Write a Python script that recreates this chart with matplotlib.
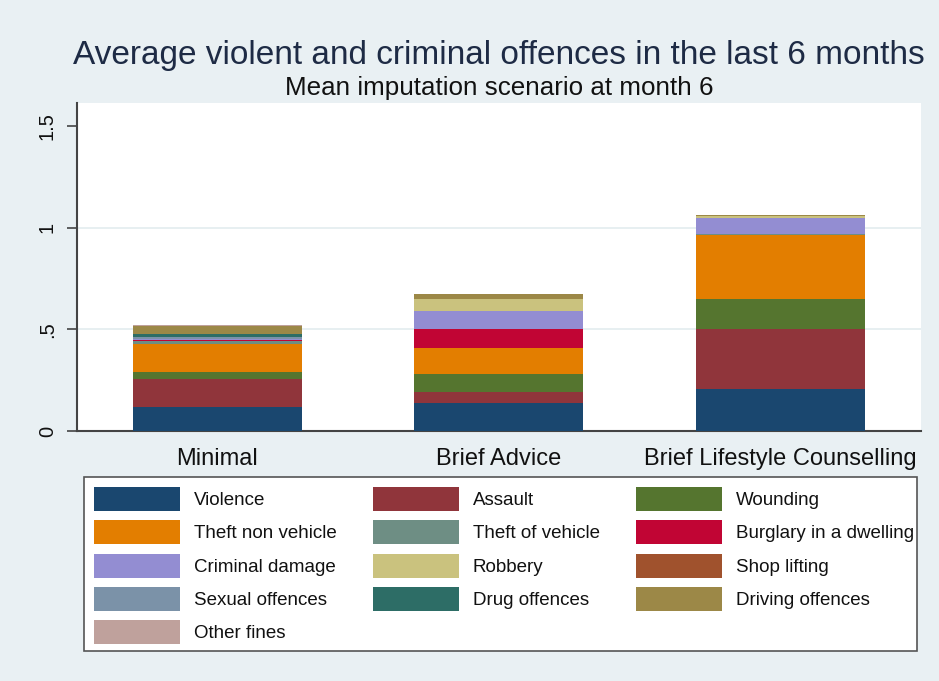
import matplotlib
matplotlib.use("Agg")
import matplotlib.pyplot as plt
from matplotlib.patches import Rectangle, Patch
import numpy as np

plt.rcParams['font.family'] = ['Liberation Sans', 'DejaVu Sans']

# Data
categories = ["Minimal", "Brief Advice", "Brief Lifestyle Counselling"]
offence_types = ["Violence", "Assault", "Wounding", "Theft non vehicle",
                 "Theft of vehicle", "Burglary in a dwelling", "Criminal damage",
                 "Robbery", "Shop lifting", "Sexual offences", "Drug offences",
                 "Driving offences", "Other fines"]
violence = [0.120, 0.136, 0.207]
assault = [0.135, 0.054, 0.294]
wounding = [0.033, 0.090, 0.149]
theft_non_vehicle = [0.141, 0.127, 0.313]
theft_of_vehicle = [0.012, 0.000, 0.008]
burglary = [0.005, 0.093, 0.000]
criminal_damage = [0.006, 0.092, 0.077]
robbery = [0.000, 0.057, 0.010]
shop_lifting = [0.000, 0.000, 0.000]
sexual_offences = [0.012, 0.000, 0.000]
drug_offences = [0.013, 0.000, 0.000]
driving_offences = [0.040, 0.025, 0.005]
other_fines = [0.003, 0.000, 0.000]

series = [violence, assault, wounding, theft_non_vehicle, theft_of_vehicle,
          burglary, criminal_damage, robbery, shop_lifting, sexual_offences,
          drug_offences, driving_offences, other_fines]

colors = ["#1a476f", "#90353b", "#55752f", "#e37e00", "#6e8e84", "#c10534",
          "#938dd2", "#cac27e", "#a0522d", "#7b92a8", "#2d6d66", "#9c8847",
          "#bfa19c"]

W, H = 939, 681
fig = plt.figure(figsize=(W / 100, H / 100), dpi=100)
fig.patch.set_facecolor("#e9f0f3")

ax_l, ax_r, ax_t, ax_b = 76.7, 921, 103.3, 431
ax = fig.add_axes([ax_l / W, 1 - ax_b / H, (ax_r - ax_l) / W, (ax_b - ax_t) / H])
ax.set_facecolor("white")

x = np.arange(len(categories))
bottom = np.zeros(len(categories))
for vals, col in zip(series, colors):
    v = np.array(vals)
    ax.bar(x, v, width=0.601, bottom=bottom, color=col, linewidth=0, zorder=3)
    bottom += v

ax.set_xlim(-0.5, 2.5)
ax.set_ylim(0, 1.612)
ax.set_yticks([0, 0.5, 1, 1.5])
ax.set_yticklabels(["0", ".5", "1", "1.5"], rotation=90, va="center",
                   fontsize=14.5, color="#111111")
for yv in (0.5, 1.0):
    ax.axhline(yv, color="#e3ecef", lw=1.2, zorder=1)

ax.set_xticks(x)
ax.set_xticklabels(categories, fontsize=17, color="#111111")
ax.tick_params(axis="x", length=0, pad=12)
ax.tick_params(axis="y", length=7.2, width=1.2, color="#444444", pad=7)

for s in ("top", "right"):
    ax.spines[s].set_visible(False)
for s in ("left", "bottom"):
    ax.spines[s].set_color("#444444")
    ax.spines[s].set_linewidth(1.5)

# Titles
cx = (ax_l + ax_r) / 2 / W
fig.text(cx, 1 - 64.3 / H, "Average violent and criminal offences in the last 6 months",
         ha="center", va="baseline", fontsize=24, color="#1e2b45")
fig.text(cx, 1 - 95 / H, "Mean imputation scenario at month 6",
         ha="center", va="baseline", fontsize=18.7, color="#111111")

# Legend frame
lb_l, lb_r, lb_t, lb_b = 84, 917, 477, 651
fig.patches.append(Rectangle((lb_l / W, 1 - lb_b / H), (lb_r - lb_l) / W,
                             (lb_b - lb_t) / H, transform=fig.transFigure,
                             facecolor="white", edgecolor="#555555", lw=1.2,
                             zorder=0))

handles = [Patch(facecolor=c, edgecolor="none") for c in colors]
order = [0, 3, 6, 9, 12, 1, 4, 7, 10, 2, 5, 8, 11]
fs_leg = 13.5
fs_px = fs_leg * 100 / 72
sw_h = 24.0
hh = (sw_h / fs_px - 0.245) / 0.65
leg = fig.legend([handles[i] for i in order], [offence_types[i] for i in order],
                 ncol=3, loc="center",
                 bbox_to_anchor=(((98 + 909.5) / 2) / W, 1 - 565.5 / H),
                 frameon=False, fontsize=fs_leg, borderpad=0,
                 handlelength=86 / fs_px, handleheight=hh,
                 handletextpad=14 / fs_px, columnspacing=36 / fs_px,
                 labelspacing=(33.3 - sw_h) / fs_px, borderaxespad=0)
for t in leg.get_texts():
    t.set_color("#111111")

fig.savefig("out.png", dpi=100, facecolor=fig.get_facecolor())
